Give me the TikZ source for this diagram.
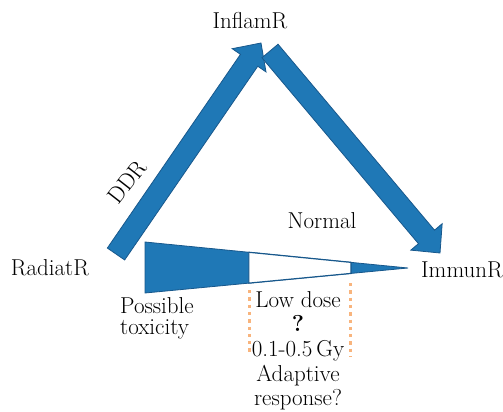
\documentclass[tikz,border=0pt]{standalone}
\usetikzlibrary{calc}

\definecolor{arrowblue}{RGB}{31,120,182}
\definecolor{edgeblue}{RGB}{24,88,140}
\definecolor{dotorange}{RGB}{248,180,125}

\newcommand{\blockarrow}[2]{%
  % #1 tail coordinate, #2 tip coordinate
  \coordinate (#1-h) at ($(#2)!21pt!(#1)$);
  \draw[blockfill]
    ($(#1)!10.5pt!-90:(#2)$) -- ($(#1-h)!10.5pt!-90:(#2)$) --
    ($(#1-h)!20.5pt!-90:(#2)$) -- (#2) --
    ($(#1-h)!20.5pt!90:(#2)$) -- ($(#1-h)!10.5pt!90:(#2)$) --
    ($(#1)!10.5pt!90:(#2)$) -- cycle;
}

\begin{document}
\begin{tikzpicture}[x=1pt,y=-1pt]

\tikzset{
  lbl/.style={font=\fontsize{23}{24.7}\selectfont, inner sep=0pt},
  blockfill/.style={fill=arrowblue, draw=edgeblue, line width=0.8pt, line join=miter},
  dosedots/.style={draw=dotorange, line width=3pt, dash pattern=on 3.3pt off 4pt},
}

\useasboundingbox (0,0) rectangle (503,412);

% ---------------- labels ----------------
\node[lbl, anchor=base] (radiat) at (50,275) {RadiatR};
\node[lbl, anchor=base] (inflam) at (250,29) {InflamR};
\node[lbl, anchor=base] (immun) at (462,277) {ImmunR};
\node[lbl, anchor=base] (normal) at (322,228) {Normal};
\node[lbl, rotate=52] (ddr) at (127,182) {DDR};

% ---------------- block arrows ----------------
\coordinate (ddrtail) at (116,254);
\coordinate (ddrtip) at (261,43);
\coordinate (immtail) at (270,51);
\coordinate (immtip) at (440,253);
\blockarrow{ddrtail}{ddrtip}
\blockarrow{immtail}{immtip}

% ---------------- dose wedge ----------------
\coordinate (wtop) at (145,242);
\coordinate (wbot) at (145,293);
\coordinate (wtip) at (408,268);
\draw[blockfill] (wtop) -- (wtip) -- (wbot) -- cycle;
% low dose window
\draw[fill=white, draw=edgeblue, line width=1.2pt]
  ($(wtop)!0.395!(wtip)$) -- ($(wtop)!0.783!(wtip)$) --
  ($(wbot)!0.783!(wtip)$) -- ($(wbot)!0.395!(wtip)$) -- cycle;

% ---------------- dose texts ----------------
\node[lbl, align=left, anchor=north west, font=\fontsize{23}{21}\selectfont] (tox) at (120,297) {Possible\\toxicity};
\node[lbl, align=center, anchor=north] (lowdose) at (298,291) {Low dose\\\textbf{?}\\0.1-0.5\,Gy\\Adaptive\\response?};

% dotted brackets
\coordinate (dl1) at (249,290);
\coordinate (dl2) at (249,352);
\coordinate (dr1) at (350,283);
\coordinate (dr2) at (350,357);
\draw[dosedots] (dl1) -- (dl2);
\draw[dosedots] (dr1) -- (dr2);

\end{tikzpicture}
\end{document}
